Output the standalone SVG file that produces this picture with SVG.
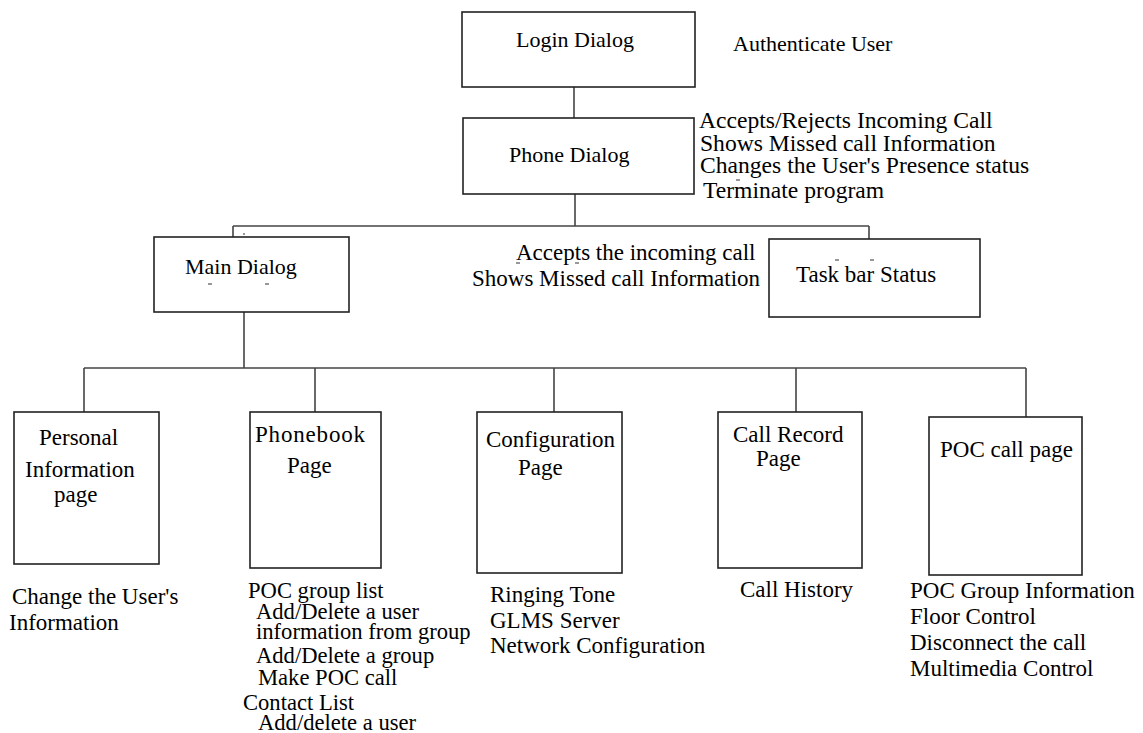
<svg xmlns="http://www.w3.org/2000/svg" width="1143" height="733" viewBox="0 0 1143 733">
  <style>
    .box { fill: #ffffff; stroke: #222222; stroke-width: 1.6; }
    .wire { fill: none; stroke: #444444; stroke-width: 1.6; }
    .tick { stroke: #333333; stroke-width: 1.2; }
    text { font-family: "Liberation Serif", "Times New Roman", serif; fill: #000000; font-size: 23px; }
    .s22 { font-size: 22px; }
    .s24 { font-size: 23.6px; }
    .list { font-size: 22.6px; }
  </style>
  <rect width="1143" height="733" fill="#ffffff"/>

  <!-- tree connectors -->
  <g id="connectors">
    <path class="wire" d="M574 87 V118"/>
    <path class="wire" d="M575 194 V226"/>
    <path class="wire" d="M233 226 H869"/>
    <path class="wire" d="M233 226 V237"/>
    <path class="wire" d="M869 226 V239"/>
    <path class="wire" d="M244 312 V368"/>
    <path class="wire" d="M84 368 H1026"/>
    <path class="wire" d="M84 368 V412"/>
    <path class="wire" d="M315 368 V412"/>
    <path class="wire" d="M554 368 V412"/>
    <path class="wire" d="M796 368 V412"/>
    <path class="wire" d="M1026 368 V417"/>
  </g>

  <g id="login-dialog">
    <rect class="box" x="462" y="12" width="233" height="75"/>
    <text class="s22" x="516" y="47">Login Dialog</text>
  </g>
  <text id="login-note" class="s22" x="733" y="51">Authenticate User</text>

  <g id="phone-dialog">
    <rect class="box" x="463" y="118" width="231" height="76"/>
    <text class="s22" x="509" y="162">Phone Dialog</text>
  </g>
  <g id="phone-notes">
    <text class="s24" x="699" y="128">Accepts/Rejects Incoming Call</text>
    <text class="s24" x="700" y="151">Shows Missed call Information</text>
    <text class="s24" x="700" y="173">Changes the User's Presence status</text>
    <text class="s24" x="703" y="198">Terminate program</text>
  </g>

  <g id="main-dialog">
    <rect class="box" x="154" y="237" width="195" height="75"/>
    <text class="s22" x="185" y="274">Main Dialog</text>
  </g>

  <g id="taskbar-notes">
    <text x="516" y="260">Accepts the incoming call</text>
    <text x="472" y="286">Shows Missed call Information</text>
  </g>

  <g id="taskbar-status">
    <rect class="box" x="769" y="239" width="211" height="78"/>
    <text x="796" y="282">Task bar Status</text>
  </g>

  <g id="personal-page">
    <rect class="box" x="14" y="412" width="145" height="152"/>
    <text x="39" y="445">Personal</text>
    <text x="25" y="477">Information</text>
    <text x="54" y="502">page</text>
  </g>
  <g id="personal-notes">
    <text x="12" y="604">Change the User's</text>
    <text x="9" y="630">Information</text>
  </g>

  <g id="phonebook-page">
    <rect class="box" x="250" y="412" width="131" height="156"/>
    <text x="255" y="442" textLength="110">Phonebook</text>
    <text x="287" y="473">Page</text>
  </g>
  <g id="phonebook-notes">
    <text class="list" x="248" y="598">POC group list</text>
    <text class="list" x="256" y="619">Add/Delete a user</text>
    <text class="list" x="256" y="639">information from group</text>
    <text class="list" x="256" y="663">Add/Delete a group</text>
    <text class="list" x="258" y="685">Make POC call</text>
    <text class="list" x="243" y="710">Contact List</text>
    <text class="list" x="258" y="730">Add/delete a user</text>
  </g>

  <g id="configuration-page">
    <rect class="box" x="477" y="412" width="145" height="161"/>
    <text x="486" y="447">Configuration</text>
    <text x="518" y="475">Page</text>
  </g>
  <g id="configuration-notes">
    <text x="490" y="602">Ringing Tone</text>
    <text x="490" y="628">GLMS Server</text>
    <text x="490" y="653">Network Configuration</text>
  </g>

  <g id="call-record-page">
    <rect class="box" x="718" y="412" width="144" height="156"/>
    <text x="733" y="442">Call Record</text>
    <text x="756" y="466">Page</text>
  </g>
  <text id="call-record-notes" x="740" y="597">Call History</text>

  <g id="poc-call-page">
    <rect class="box" x="929" y="417" width="153" height="158"/>
    <text x="940" y="457">POC call page</text>
  </g>
  <g id="poc-call-notes">
    <text x="910" y="598">POC Group Information</text>
    <text x="910" y="624">Floor Control</text>
    <text x="910" y="650">Disconnect the call</text>
    <text x="910" y="676">Multimedia Control</text>
  </g>

  <!-- stray underline marks -->
  <g id="marks">
    <path class="tick" d="M208 284 h4 M265 284 h4 M243 234 h2 M516 263 h4 M575 263 h4 M835 260 h4 M870 260 h4 M736 180 h4"/>
  </g>
</svg>
